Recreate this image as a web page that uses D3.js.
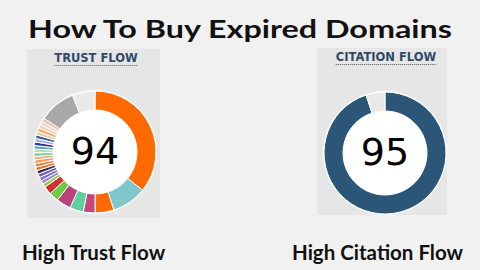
<!DOCTYPE html>
<html>
<head>
<meta charset="utf-8">
<script src="https://cdn.jsdelivr.net/npm/d3@7"></script>
<style>
  html, body { margin: 0; padding: 0; background: #f1f1f1; }
  svg { display: block; }
</style>
</head>
<body>
<svg id="chart" width="480" height="270"></svg>
<script>
// chart data
const pageTitle = "How To Buy Expired Domains";
const panelTitles = ["TRUST FLOW", "CITATION FLOW"];
const captions = ["High Trust Flow", "High Citation Flow"];
const scores = [94, 95];

// trust flow breakdown (percent, clockwise from top)
const trustValues = [35.8, 9.2, 5, 3.1, 3.6, 3.9, 2.5, 2.2,
  0.95, 0.95, 0.95, 0.95, 0.95, 0.95, 0.95, 0.95, 0.95, 0.95,
  0.95, 0.95, 0.95, 0.95, 0.95, 0.95, 0.95, 0.95, 0.95, 0.95,
  9.7, 6];
const trustColors = ["#ff6a00", "#80c6ca", "#ff6a00", "#c4467c", "#5ecf9f", "#bb417b", "#6ccb45", "#d3302f",
  "#8dcf4f", "#9b86d6", "#7e6cc6", "#6a5ab8", "#3d2748", "#e8732a", "#f0833a", "#f59a50", "#f5b27a", "#78d0a0",
  "#a8e4c0", "#5aa8b8", "#2b3f8c", "#a0b4e6", "#4858a8", "#f2c89e", "#f0a868", "#f6cfb0", "#f3d6d0", "#efc0b0",
  "#a8a8a8", "#e9e9e9"];

// citation flow (percent)
const citationValues = [95, 5];
const citationColors = ["#2c5677", "#e9e9e9"];

const svg = d3.select("#chart");

svg.append("text")
  .attr("x", 240).attr("y", 38)
  .attr("text-anchor", "middle")
  .attr("textLength", 424).attr("lengthAdjust", "spacingAndGlyphs")
  .style("font-family", "Lato, 'Open Sans', sans-serif")
  .style("font-weight", "bold").style("font-size", "25px")
  .style("fill", "#111")
  .text(pageTitle);

const panels = [
  {x: 27, y: 49, w: 133, h: 169, cx: 95, cy: 152, values: trustValues, colors: trustColors},
  {x: 317, y: 48, w: 130, h: 167, cx: 385, cy: 153, values: citationValues, colors: citationColors}
];

const pie = d3.pie().sort(null).value(d => d.v);
const arc = d3.arc().innerRadius(42).outerRadius(61);

panels.forEach((p, i) => {
  svg.append("rect")
    .attr("x", p.x).attr("y", p.y).attr("width", p.w).attr("height", p.h)
    .attr("fill", "#e6e6e6");

  const t = svg.append("text")
    .attr("x", p.cx + 1).attr("y", p.y + 12.5)
    .attr("text-anchor", "middle")
    .style("font-family", "'DejaVu Sans', Verdana, sans-serif")
    .style("font-weight", "bold").style("font-size", "11.5px")
    .style("fill", "#2f4a66")
    .text(panelTitles[i]);
  const bw = t.node().getComputedTextLength();
  svg.append("line")
    .attr("x1", p.cx + 1 - bw / 2).attr("x2", p.cx + 1 + bw / 2)
    .attr("y1", p.y + 16.5).attr("y2", p.y + 16.5)
    .attr("stroke", "#555").attr("stroke-width", 1)
    .attr("stroke-dasharray", "1,1");

  const g = svg.append("g").attr("transform", `translate(${p.cx},${p.cy})`);
  g.append("circle").attr("r", 62).attr("fill", "#fff");
  g.selectAll("path")
    .data(pie(p.values.map((v, k) => ({v, c: p.colors[k]}))))
    .join("path")
    .attr("d", arc)
    .attr("fill", d => d.data.c)
    .attr("stroke", "#fff")
    .attr("stroke-width", 1);

  g.append("text")
    .attr("y", 12)
    .attr("text-anchor", "middle")
    .style("font-family", "'DejaVu Sans', Verdana, sans-serif")
    .style("font-size", "38px")
    .style("fill", "#000")
    .text(scores[i]);
});

const capX = [93.5, 377.5];
captions.forEach((c, i) => {
  svg.append("text")
    .attr("x", capX[i]).attr("y", 260)
    .attr("text-anchor", "middle")
    .style("font-family", "Lato, 'Open Sans', sans-serif")
    .style("font-weight", "bold").style("font-size", "20.5px")
    .style("fill", "#111")
    .text(c);
});
</script>
</body>
</html>
